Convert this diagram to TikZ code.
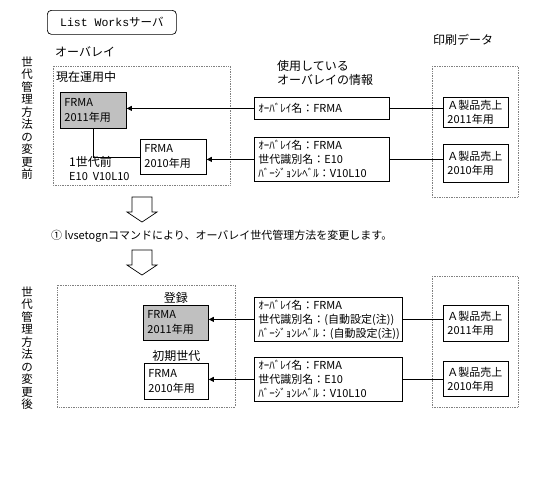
\documentclass[tikz,border=0pt]{standalone}
\usepackage{fontspec}
\setmainfont{Noto Sans CJK JP}
\newfontfamily\monofnt{Liberation Mono}
\usetikzlibrary{positioning,arrows.meta}
\definecolor{ovgray}{RGB}{192,192,192}
\begin{document}
\begin{tikzpicture}[x=1pt,y=-1pt,
    every node/.style={inner sep=1pt},
    lbl/.style={font=\fontsize{12}{14}\selectfont},
    vlbl/.style={font=\fontsize{11.5}{12.5}\selectfont,align=center},
    box/.style={draw,line width=0.8pt,anchor=north west,align=left,
      inner xsep=4pt,text width=#1,font=\fontsize{11}{15}\selectfont},
    curbox/.style={box=#1,fill=ovgray},
    area/.style={draw=gray,densely dotted,line width=0.7pt},
    link/.style={line width=0.8pt},
    feed/.style={link,-{Triangle[length=5pt,width=5pt]}},
    hollowdown/.pic={
      \draw[line width=0.7pt] (-10,0) -- (10,0) -- (10,15) -- (15,15) -- (0,25)
        -- (-15,15) -- (-10,15) -- cycle;}]
    \useasboundingbox (0,0) rectangle (548,491);

    \node[draw,line width=0.7pt,rounded corners=4pt,minimum width=129pt,minimum height=24pt,
      anchor=north west,font=\fontsize{11.5}{14}\selectfont] (server) at (47,10)
      {{\monofnt List Works}サーバ};

    % before
    \node[vlbl] (before) at (27,118) {世\\代\\管\\理\\方\\法\\の\\変\\更\\前};
    \node[lbl,anchor=west] (ovlbl) at (54,52) {オーバレイ};
    \draw[area] (53,66) rectangle (230,185);
    \node[lbl,anchor=west] (nowlbl) at (55,77) {現在運用中};
    \node[curbox=58pt,minimum height=36pt] (cur1) at (60,92) {FRMA\\2011年用};
    \node[box=58pt,minimum height=35pt] (prev1) at (140,139) {FRMA\\2010年用};
    \node[lbl,anchor=north west,align=left] (genlbl) at (68,155)
      {1世代前\\{\fontsize{11}{13}\selectfont E10\ \ V10L10}};
    \draw[link] (cur1.south) |- (prev1.west);

    \node[lbl,anchor=north west,align=left] (infolbl) at (276,59) {使用している\\オーバレイの情報};
    \node[box=127pt,minimum height=22pt] (info1) at (254,97) {ｵｰﾊﾞﾚｲ名：FRMA};
    \node[box=127pt,minimum height=44pt,font=\fontsize{11}{14}\selectfont] (info2) at (254,137)
      {ｵｰﾊﾞﾚｲ名：FRMA\\世代識別名：E10\\ﾊﾞｰｼﾞｮﾝﾚﾍﾞﾙ：V10L10};
    \node[lbl,anchor=west] (prtlbl) at (432,40) {印刷データ};
    \draw[area] (432,66) rectangle (518,197);
    \node[box=57pt,minimum height=30pt,font=\fontsize{11}{14}\selectfont] (sales1) at (443,97) {Ａ製品売上\\2011年用};
    \node[box=57pt,minimum height=38pt,font=\fontsize{11}{14}\selectfont] (sales2) at (443,144) {Ａ製品売上\\2010年用};

    \draw[feed] (info1.west) -- (info1.west -| cur1.east);
    \draw[feed] (info2.west) -- (info2.west -| prev1.east);
    \draw[link] (info1.east) -- (info1.east -| sales1.west);
    \draw[link] (info2.east) -- (info2.east -| sales2.west);

    % change
    \pic at (142,197) {hollowdown};
    \node[anchor=west,font=\fontsize{11}{13}\selectfont] (cmd) at (50,236)
      {① lvsetognコマンドにより、オーバレイ世代管理方法を変更します。};
    \pic at (142,250) {hollowdown};

    % after
    \node[vlbl] (after) at (27,348) {世\\代\\管\\理\\方\\法\\の\\変\\更\\後};
    \draw[area] (57,285) rectangle (235,407);
    \node[curbox=57pt,minimum height=35pt] (cur2) at (143,305) {FRMA\\2011年用};
    \node[box=56pt,minimum height=36pt] (init2) at (144,363) {FRMA\\2010年用};
    \node[lbl,above=0pt of cur2] (reglbl) {登録};
    \node[lbl,above=0pt of init2] (initlbl) {初期世代};

    \node[box=140pt,minimum height=44pt,font=\fontsize{11}{14}\selectfont] (info3) at (254,297)
      {ｵｰﾊﾞﾚｲ名：FRMA\\世代識別名：(自動設定(注))\\ﾊﾞｰｼﾞｮﾝﾚﾍﾞﾙ：(自動設定(注))};
    \node[box=140pt,minimum height=44pt,font=\fontsize{11}{14}\selectfont] (info4) at (254,357)
      {ｵｰﾊﾞﾚｲ名：FRMA\\世代識別名：E10\\ﾊﾞｰｼﾞｮﾝﾚﾍﾞﾙ：V10L10};
    \draw[area] (432,276) rectangle (518,407);
    \node[box=57pt,minimum height=36pt,font=\fontsize{11}{14}\selectfont] (sales3) at (443,305) {Ａ製品売上\\2011年用};
    \node[box=57pt,minimum height=35pt,font=\fontsize{11}{14}\selectfont] (sales4) at (443,361) {Ａ製品売上\\2010年用};

    \draw[feed] (info3.west) -- (info3.west -| cur2.east);
    \draw[feed] (info4.west) -- (info4.west -| init2.east);
    \draw[link] (info3.east) -- (info3.east -| sales3.west);
    \draw[link] (info4.east) -- (info4.east -| sales4.west);
\end{tikzpicture}
\end{document}
